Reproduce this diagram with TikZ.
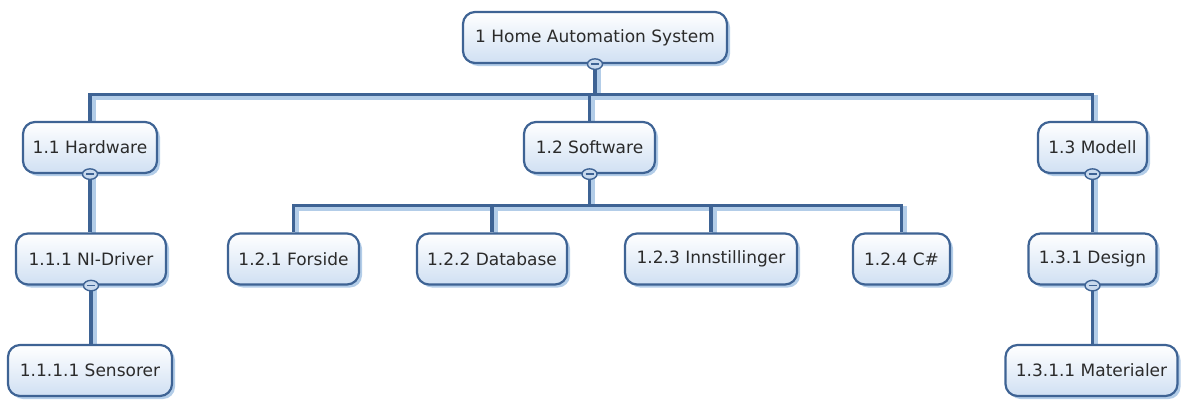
\documentclass[tikz,border=0pt]{standalone}
\usepackage{fontspec}
\setmainfont{DejaVu Sans}
\usetikzlibrary{shadows,calc,shapes.geometric}
\definecolor{bdr}{HTML}{3E6394}
\definecolor{shd}{HTML}{B3CDE8}
\definecolor{fillb}{HTML}{D0E0F3}
\definecolor{txt}{HTML}{2B2B2B}
\definecolor{togfill}{HTML}{C9DAEE}
\pgfdeclarelayer{bg}
\pgfsetlayers{bg,main}
\tikzset{
  wbs/.style={draw=bdr, line width=2.2pt, rounded corners=12pt,
    top color=white, bottom color=fillb, text=txt,
    font=\fontsize{17}{19}\selectfont, minimum height=51pt, inner xsep=5pt,
    drop shadow={fill=shd, shadow xshift=3pt, shadow yshift=-3pt, opacity=1}},
  link/.style={draw=bdr, line width=3.2pt},
  linkshd/.style={draw=shd, line width=4.5pt},
  tog/.style={ellipse, draw=bdr, line width=1.4pt, fill=togfill,
    minimum width=15pt, minimum height=10.5pt, inner sep=0pt,
    path picture={\draw[bdr, line width=1.6pt] ([xshift=-4pt]path picture bounding box.center) -- ([xshift=4pt]path picture bounding box.center);}}
}
\begin{document}
\begin{tikzpicture}[x=1pt,y=-1pt]
\useasboundingbox (0,0) rectangle (1184,402);
% nodes
\node[wbs, minimum width=264pt] (root) at (595,37.5) {1 Home Automation System};
\node[wbs, minimum width=134pt] (hw) at (90,147.5) {1.1 Hardware};
\node[wbs, minimum width=131pt] (sw) at (589.5,147.5) {1.2 Software};
\node[wbs, minimum width=109pt] (mod) at (1092.5,147.5) {1.3 Modell};
\node[wbs, minimum width=150pt] (ni) at (91,259) {1.1.1 NI-Driver};
\node[wbs, minimum width=131pt] (fors) at (293.5,259) {1.2.1 Forside};
\node[wbs, minimum width=150pt] (db) at (492,259) {1.2.2 Database};
\node[wbs, minimum width=172pt] (inn) at (711,259) {1.2.3 Innstillinger};
\node[wbs, minimum width=97pt] (cs) at (901.5,259) {1.2.4 C\#};
\node[wbs, minimum width=128pt] (des) at (1092.5,259) {1.3.1 Design};
\node[wbs, minimum width=164pt] (sens) at (90,370.5) {1.1.1.1 Sensorer};
\node[wbs, minimum width=172pt] (mat) at (1091.5,370.5) {1.3.1.1 Materialer};
% connectors
\begin{pgfonlayer}{bg}
\foreach \sty/\dx/\dy in {linkshd/3.5pt/-3.5pt, link/0pt/0pt}{
  \begin{scope}[transform canvas={xshift=\dx,yshift=\dy}]
    \foreach \c in {hw,sw,mod}
      \draw[\sty] (root.south) -- ++(0,30) -| (\c.north);
    \foreach \c in {fors,db,inn,cs}
      \draw[\sty] (sw.south) -- ++(0,31) -| (\c.north);
    \draw[\sty] (hw.south) -- (hw.south |- ni.north);
    \draw[\sty] (ni.south) -- (ni.south |- sens.north);
    \draw[\sty] (mod.south) -- (mod.south |- des.north);
    \draw[\sty] (des.south) -- (des.south |- mat.north);
  \end{scope}
}
\end{pgfonlayer}
% collapse toggles
\foreach \p in {root,hw,sw,mod,ni,des}
  \node[tog] (t-\p) at (\p.south) {};
\end{tikzpicture}
\end{document}
